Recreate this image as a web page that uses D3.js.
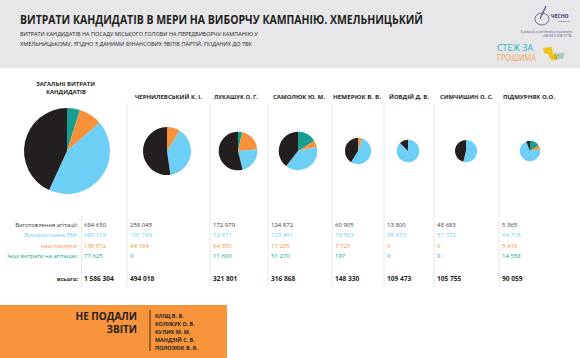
<!DOCTYPE html>
<html><head><meta charset="utf-8">
<script src="https://cdn.jsdelivr.net/npm/d3@7"></script>
<style>body{margin:0;background:#fff}svg{display:block;font-family:"Open Sans",sans-serif}</style>
</head><body>
<svg id="c" width="580" height="358"></svg>
<script>
const candidates = ["ЧЕРНИЛЕВСЬКИЙ К. І.","ЛУКАШУК О. Г.","САМОЛЮК Ю. М.","НЕМЕРЮК В. В.","ЙОВДІЙ Д. В.","СИМЧИШИН О. С.","ПІДМУРНЯК О.О."];
const rowLabels = ["Виготовлення агітації:","Використання ЗМІ:","Інші послуги:","Інші витрати на агітацію:"];
const overall = {agitation:684650, media:685118, services:138912, other:77625, total:1586304};
const agitation = [258045,172979,124872,60905,13800,48683,5365];
const media     = [191789,72871,123491,79503,95673,57072,64718];
const services  = [44184,64350,17235,7725,0,0,5418];
const otherAg   = [0,11600,51270,197,0,0,14558];
const totals    = [494018,321801,316868,148330,109473,105755,90059];
const noReports = ["КЛІЩ В. В.","КОЛІЖУК О. В.","КУЛИК М. М.","МАНДЗІЙ С. В.","ПОЛОЗЮК В. Я."];

const colors = {other:"#169e8e", services:"#f7923a", media:"#6dcff6", agitation:"#231f20"};
const textColors = ["#3a3a3a","#6dcff6","#f7923a","#169e8e"];
const svg = d3.select("#c");
const fmt = v => d3.format(",")(v).replace(/,/g," ");

// header
svg.append("rect").attr("x",0).attr("y",0).attr("width",580).attr("height",68).attr("fill","#e7e7e9");
svg.append("text").attr("x",20).attr("y",23.5).attr("font-size",12.5).attr("font-weight",700).attr("fill","#231f20")
  .attr("textLength",403).attr("lengthAdjust","spacingAndGlyphs")
  .text("ВИТРАТИ КАНДИДАТІВ В МЕРИ НА ВИБОРЧУ КАМПАНІЮ. ХМЕЛЬНИЦЬКИЙ");
svg.append("text").attr("x",20).attr("y",36).attr("font-size",5.6).attr("fill","#231f20")
  .attr("textLength",238).attr("lengthAdjust","spacingAndGlyphs")
  .text("ВИТРАТИ КАНДИДАТІВ НА ПОСАДУ МІСЬКОГО ГОЛОВИ НА ПЕРЕДВИБОРЧУ КАМПАНІЮ У");
svg.append("text").attr("x",20).attr("y",46).attr("font-size",5.6).attr("fill","#231f20")
  .attr("textLength",232).attr("lengthAdjust","spacingAndGlyphs")
  .text("ХМЕЛЬНИЦЬКОМУ, ЗГІДНО З ДАНИМИ ФІНАНСОВИХ ЗВІТІВ ПАРТІЙ, ПОДАНИХ ДО ТВК");

// logos
const lg = svg.append("g");
lg.append("ellipse").attr("cx",542).attr("cy",19).attr("rx",7).attr("ry",6).attr("fill","none").attr("stroke","#5b4a8a").attr("stroke-width",0.8);
lg.append("path").attr("d","M540,19 L546,6").attr("stroke","#5b4a8a").attr("stroke-width",1.2);
lg.append("text").attr("x",551).attr("y",18).attr("font-size",5).attr("font-weight",700).attr("fill","#3d2f6b").text("ЧЕСНО");
lg.append("text").attr("x",564).attr("y",21.5).attr("font-size",2.4).attr("fill","#3d2f6b").attr("text-anchor","middle").text("movement");
lg.append("text").attr("x",572).attr("y",33).attr("font-size",3.3).attr("fill","#5b4a8a").attr("text-anchor","end").text("facebook.com/chesno.movement");
lg.append("text").attr("x",572).attr("y",37).attr("font-size",3.3).attr("fill","#5b4a8a").attr("text-anchor","end").text("+38 (067) 638 77 96");
lg.append("text").attr("x",497).attr("y",51).attr("font-size",8.5).attr("fill","#2bb5c2").attr("textLength",36).attr("lengthAdjust","spacingAndGlyphs").text("СТЕЖ ЗА");
lg.append("text").attr("x",497).attr("y",61).attr("font-size",8.5).attr("fill","#f5a25d").attr("textLength",39).attr("lengthAdjust","spacingAndGlyphs").text("ГРОШИМА");
lg.append("path").attr("d","M543,48 L552,47 L553,54 L557,55 L557,60 L551,60 L548,54 L544,53 Z").attr("fill","#f2c417");
lg.append("text").attr("x",554).attr("y",56).attr("font-size",2.6).attr("fill","#2a8a5a").text("ВЛАСНЕ");
lg.append("text").attr("x",554).attr("y",59).attr("font-size",2.6).attr("fill","#2a8a5a").text("РАЗОМ");

// pies
const rScale = d3.scaleSqrt().domain([0, overall.total]).range([0, 43]);
const pie = d3.pie().sort(null).value(d => d.v);
function drawPie(cx, cy, vals, total){
  const r = rScale(total);
  const data = [
    {k:"other", v:vals.other},{k:"services", v:vals.services},
    {k:"media", v:vals.media},{k:"agitation", v:vals.agitation}];
  const arc = d3.arc().innerRadius(0).outerRadius(r);
  svg.append("g").attr("transform",`translate(${cx},${cy})`)
    .selectAll("path").data(pie(data)).join("path")
    .attr("d",arc).attr("fill",d=>colors[d.data.k]);
}
drawPie(67,151,overall,overall.total);

const sepX = [127,210,268,332,384,434,499];
const pieX = [167,238,298,358,408,466,530];
const nameStarts = [135,214,273,333,389,440,503];
const nameWidths = [67,44,52,48,40,53,52];

svg.append("text").attr("x",65.5).attr("y",86).attr("text-anchor","middle").attr("font-size",5.8).attr("font-weight",700).attr("fill","#231f20")
  .attr("textLength",59).attr("lengthAdjust","spacingAndGlyphs").text("ЗАГАЛЬНІ ВИТРАТИ");
svg.append("text").attr("x",66).attr("y",94).attr("text-anchor","middle").attr("font-size",5.8).attr("font-weight",700).attr("fill","#231f20")
  .attr("textLength",40).attr("lengthAdjust","spacingAndGlyphs").text("КАНДИДАТІВ");

// separators
sepX.forEach(x => svg.append("line").attr("x1",x).attr("x2",x).attr("y1",103).attr("y2",287).attr("stroke","#e2e2e2").attr("stroke-width",0.8));
svg.append("line").attr("x1",81.5).attr("x2",81.5).attr("y1",216).attr("y2",287).attr("stroke","#e2e2e2").attr("stroke-width",0.8);

candidates.forEach((name,i)=>{
  svg.append("text").attr("x",nameStarts[i]).attr("y",98.5).attr("font-size",5.8).attr("font-weight",700).attr("fill","#231f20")
    .attr("textLength",nameWidths[i]).attr("lengthAdjust","spacingAndGlyphs").text(name);
  drawPie(pieX[i],151,{agitation:agitation[i],media:media[i],services:services[i],other:otherAg[i]},totals[i]);
});

// table
const rowY = [226.5,237,247.5,258];
rowLabels.forEach((l,j)=>{
  svg.append("text").attr("x",78).attr("y",rowY[j]).attr("text-anchor","end").attr("font-size",5.8).attr("fill",textColors[j]).text(l);
});
svg.append("text").attr("x",78).attr("y",280.5).attr("text-anchor","end").attr("font-size",5.6).attr("font-weight",700).attr("fill","#231f20").text("всього:");

const colX = [84].concat(sepX.map(x=>x+3));
const overallRows = [overall.agitation, overall.media, overall.services, overall.other];
const series = [agitation, media, services, otherAg];
colX.forEach((x,i)=>{
  for(let j=0;j<4;j++){
    const v = i===0 ? overallRows[j] : series[j][i-1];
    svg.append("text").attr("x",x).attr("y",rowY[j]).attr("font-size",6).attr("fill",textColors[j]).text(fmt(v));
  }
  const t = i===0 ? overall.total : totals[i-1];
  svg.append("text").attr("x",x).attr("y",280.5).attr("font-size",6.6).attr("font-weight",700).attr("fill","#231f20").text(fmt(t));
});

// bottom box
svg.append("rect").attr("x",0).attr("y",305).attr("width",227).attr("height",53).attr("fill","#f7943c");
svg.append("text").attr("x",137).attr("y",319.5).attr("text-anchor","end").attr("font-size",10).attr("font-weight",700).attr("fill","#231f20").text("НЕ ПОДАЛИ");
svg.append("text").attr("x",137).attr("y",333).attr("text-anchor","end").attr("font-size",10).attr("font-weight",700).attr("fill","#231f20").text("ЗВІТИ");
svg.append("line").attr("x1",150).attr("x2",150).attr("y1",310).attr("y2",351).attr("stroke","#231f20").attr("stroke-width",0.9);
noReports.forEach((n,k)=>{
  svg.append("text").attr("x",155).attr("y",317.5+k*8.2).attr("font-size",5.4).attr("font-weight",700).attr("fill","#231f20").text(n);
});
</script>
</body></html>
